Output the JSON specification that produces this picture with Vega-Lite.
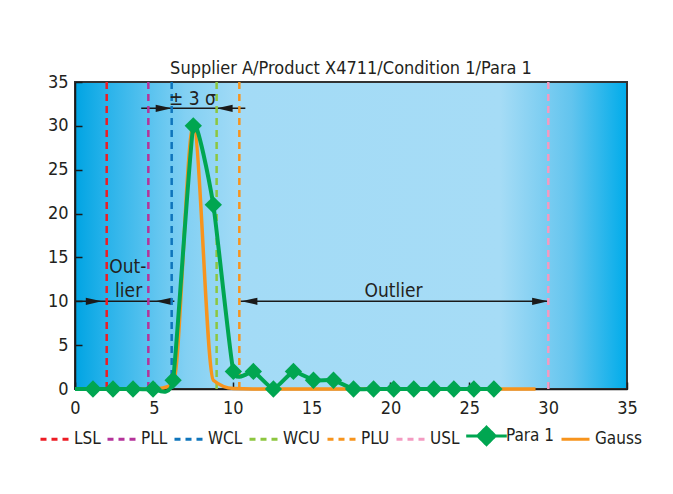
{
  "$schema": "https://vega.github.io/schema/vega-lite/v6.json",
  "width": 552,
  "height": 307,
  "autosize": "none",
  "padding": {"left": 75, "top": 82, "right": 46, "bottom": 105},
  "background": "white",
  "title": {"text": "Supplier A/Product X4711/Condition 1/Para 1", "fontSize": 18, "fontWeight": "normal", "color": "#231f20", "offset": -5, "anchor": "middle"},
  "config": {
    "font": "Liberation Sans Narrow, DejaVu Sans Condensed, Roboto Condensed, Liberation Sans",
    "view": {
      "fill": {"gradient": "linear", "x1": 0, "y1": 0, "x2": 1, "y2": 0, "stops": [
        {"offset": 0, "color": "#00a4e3"},
        {"offset": 0.06, "color": "#2ab3ea"},
        {"offset": 0.2, "color": "#82d0f3"},
        {"offset": 0.3, "color": "#a3dbf6"},
        {"offset": 0.77, "color": "#a6dcf6"},
        {"offset": 0.9, "color": "#62c4ee"},
        {"offset": 1, "color": "#00acea"}
      ]},
      "stroke": "#333333",
      "strokeWidth": 2
    },
    "axis": {
      "domainColor": "#1a1a1a", "domainWidth": 1.5,
      "tickColor": "#1a1a1a", "tickWidth": 1.5, "tickSize": -7,
      "labelFontSize": 18, "labelColor": "#231f20",
      "grid": false, "title": null, "labelOverlap": false
    },
    "text": {"font": "Liberation Sans Narrow, DejaVu Sans Condensed, Roboto Condensed, Liberation Sans"}
  },
  "datasets": {
    "limits": [
      {"series": "LSL", "x": 2.01},
      {"series": "PLL", "x": 4.65},
      {"series": "WCL", "x": 6.13},
      {"series": "WCU", "x": 8.98},
      {"series": "PLU", "x": 10.42},
      {"series": "USL", "x": 30.01}
    ],
    "para": [
      {"series": "Para 1", "x": 0, "y": 0},
      {"series": "Para 1", "x": 1.14, "y": 0},
      {"series": "Para 1", "x": 2.41, "y": 0},
      {"series": "Para 1", "x": 3.68, "y": 0},
      {"series": "Para 1", "x": 4.95, "y": 0},
      {"series": "Para 1", "x": 6.22, "y": 1},
      {"series": "Para 1", "x": 7.5, "y": 30},
      {"series": "Para 1", "x": 8.77, "y": 21},
      {"series": "Para 1", "x": 10.04, "y": 2},
      {"series": "Para 1", "x": 11.31, "y": 2},
      {"series": "Para 1", "x": 12.58, "y": 0},
      {"series": "Para 1", "x": 13.85, "y": 2},
      {"series": "Para 1", "x": 15.12, "y": 1},
      {"series": "Para 1", "x": 16.39, "y": 1},
      {"series": "Para 1", "x": 17.66, "y": 0},
      {"series": "Para 1", "x": 18.93, "y": 0},
      {"series": "Para 1", "x": 20.21, "y": 0},
      {"series": "Para 1", "x": 21.48, "y": 0},
      {"series": "Para 1", "x": 22.75, "y": 0},
      {"series": "Para 1", "x": 24.02, "y": 0},
      {"series": "Para 1", "x": 25.29, "y": 0},
      {"series": "Para 1", "x": 26.56, "y": 0}
    ],
    "gauss": [
      {"series": "Gauss", "x": 0, "y": 0},
      {"series": "Gauss", "x": 1.14, "y": 0},
      {"series": "Gauss", "x": 2.41, "y": 0},
      {"series": "Gauss", "x": 3.68, "y": 0},
      {"series": "Gauss", "x": 4.95, "y": 0},
      {"series": "Gauss", "x": 6.22, "y": 0.5},
      {"series": "Gauss", "x": 7.5, "y": 30},
      {"series": "Gauss", "x": 8.77, "y": 1},
      {"series": "Gauss", "x": 10.04, "y": 0.05},
      {"series": "Gauss", "x": 11.31, "y": 0},
      {"series": "Gauss", "x": 12.58, "y": 0},
      {"series": "Gauss", "x": 13.85, "y": 0},
      {"series": "Gauss", "x": 15.12, "y": 0},
      {"series": "Gauss", "x": 16.39, "y": 0},
      {"series": "Gauss", "x": 17.66, "y": 0},
      {"series": "Gauss", "x": 18.93, "y": 0},
      {"series": "Gauss", "x": 20.21, "y": 0},
      {"series": "Gauss", "x": 21.48, "y": 0},
      {"series": "Gauss", "x": 22.75, "y": 0},
      {"series": "Gauss", "x": 24.02, "y": 0},
      {"series": "Gauss", "x": 25.29, "y": 0},
      {"series": "Gauss", "x": 26.56, "y": 0},
      {"series": "Gauss", "x": 27.83, "y": 0},
      {"series": "Gauss", "x": 29.2, "y": 0}
    ],
    "arrows": [
      {"x": 0, "x2": 6.3, "y": 10},
      {"x": 10.5, "x2": 30, "y": 10},
      {"x": 4.2, "x2": 10.8, "y": 32}
    ],
    "heads": [
      {"x": 1.7, "y": 10, "dir": "right"},
      {"x": 5.1, "y": 10, "dir": "left"},
      {"x": 10.55, "y": 10, "dir": "left"},
      {"x": 30, "y": 10, "dir": "right"},
      {"x": 6.13, "y": 32, "dir": "right"},
      {"x": 8.98, "y": 32, "dir": "left"}
    ],
    "notes": [
      {"x": 7.45, "y": 32.4, "text": "± 3 σ"},
      {"x": 3.35, "y": 13.2, "text": "Out-"},
      {"x": 3.4, "y": 10.5, "text": "lier"},
      {"x": 20.2, "y": 10.5, "text": "Outlier"}
    ]
  },
  "layer": [
    {
      "data": {"name": "arrows"},
      "mark": {"type": "rule", "color": "#1a1a1a", "strokeWidth": 1.5},
      "encoding": {
        "x": {"field": "x", "type": "quantitative", "scale": {"domain": [0, 35], "nice": false}, "axis": {"values": [0, 5, 10, 15, 20, 25, 30, 35], "labelFlush": false, "labelPadding": 17}},
        "x2": {"field": "x2"},
        "y": {"field": "y", "type": "quantitative", "scale": {"domain": [0, 35], "nice": false}, "axis": {"values": [0, 5, 10, 15, 20, 25, 30, 35], "labelPadding": 14}}
      }
    },
    {
      "data": {"name": "heads"},
      "mark": {"type": "point", "filled": true, "color": "#1a1a1a", "opacity": 1, "size": 256},
      "encoding": {
        "x": {"field": "x", "type": "quantitative"},
        "y": {"field": "y", "type": "quantitative"},
        "shape": {"field": "dir", "type": "nominal", "scale": {"domain": ["right", "left"], "range": ["M0,0L-2,-0.45L-2,0.45Z", "M0,0L2,-0.45L2,0.45Z"]}, "legend": null}
      }
    },
    {
      "data": {"name": "limits"},
      "mark": {"type": "rule", "strokeWidth": 2.5, "strokeDash": [7, 5]},
      "encoding": {
        "x": {"field": "x", "type": "quantitative"},
        "color": {
          "field": "series", "type": "nominal",
          "scale": {"domain": ["LSL", "PLL", "WCL", "WCU", "PLU", "USL", "Para 1", "Gauss"], "range": ["#ed1c24", "#b5339a", "#0f75bc", "#8dc63f", "#f7941d", "#f49ac1", "#00a651", "#f7941d"]},
          "legend": {
            "orient": "none", "legendX": -36, "legendY": 338, "direction": "horizontal", "columns": 8,
            "title": null, "symbolType": "stroke", "symbolSize": 784, "symbolStrokeWidth": 3,
            "labelFontSize": 17, "labelColor": "#231f20", "columnPadding": 0, "labelOffset": 4, "padding": 0,
            "encode": {
              "symbols": {
                "update": {
                  "shape": {"signal": "datum.value == 'Para 1' ? 'M-1.45,0L1.45,0M0,-0.62L0.62,0L0,0.62L-0.62,0Z' : 'stroke'"},
                  "strokeDash": {"signal": "(datum.value == 'Para 1' || datum.value == 'Gauss') ? [1, 0] : [6, 5]"},
                  "fill": {"signal": "datum.value == 'Para 1' ? '#00a651' : 'transparent'"},
                  "opacity": {"value": 1}
                }
              }
            }
          }
        }
      }
    },
    {
      "data": {"name": "gauss"},
      "mark": {"type": "line", "strokeWidth": 3.5, "interpolate": "monotone"},
      "encoding": {
        "x": {"field": "x", "type": "quantitative"},
        "y": {"field": "y", "type": "quantitative"},
        "color": {"field": "series", "type": "nominal"}
      }
    },
    {
      "data": {"name": "para"},
      "mark": {"type": "line", "strokeWidth": 4, "interpolate": "cardinal", "tension": 0.55},
      "encoding": {
        "x": {"field": "x", "type": "quantitative"},
        "y": {"field": "y", "type": "quantitative"},
        "color": {"field": "series", "type": "nominal"}
      }
    },
    {
      "data": {"name": "para"},
      "transform": [{"filter": "datum.x > 0"}],
      "mark": {"type": "point", "shape": "diamond", "filled": true, "color": "#00a651", "opacity": 1, "size": 300},
      "encoding": {
        "x": {"field": "x", "type": "quantitative"},
        "y": {"field": "y", "type": "quantitative"}
      }
    },
    {
      "data": {"name": "notes"},
      "mark": {"type": "text", "fontSize": 19, "color": "#231f20", "baseline": "alphabetic", "align": "center"},
      "encoding": {
        "x": {"field": "x", "type": "quantitative"},
        "y": {"field": "y", "type": "quantitative"},
        "text": {"field": "text"}
      }
    }
  ]
}
